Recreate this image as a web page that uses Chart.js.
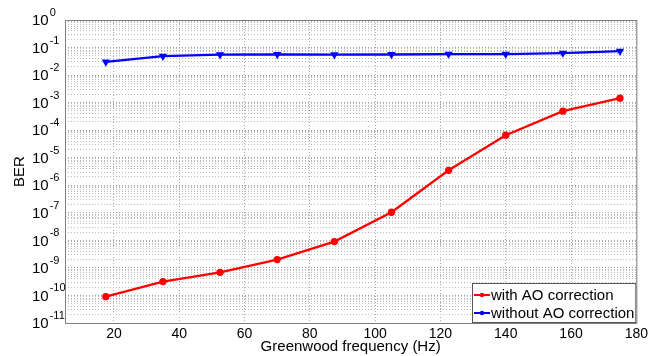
<!DOCTYPE html>
<html>
<head>
<meta charset="utf-8">
<script src="https://cdn.jsdelivr.net/npm/chart.js@4/dist/chart.umd.min.js"></script>
<style>
html, body { margin: 0; padding: 0; background: #fff; }
#wrap { width: 651px; height: 356px; }
</style>
</head>
<body>
<div id="wrap"><canvas id="grafico"></canvas></div>
<script>
// datos
const frecuencias = [17.5, 35, 52.5, 70, 87.5, 105, 122.5, 140, 157.5, 175];
const berConAO = [9e-11, 3.2e-10, 6.9e-10, 2e-9, 9e-9, 1.05e-7, 3.5e-6, 6.6e-5, 4.9e-4, 1.45e-3];
const berSinAO = [0.030, 0.049, 0.055, 0.056, 0.055, 0.056, 0.058, 0.058, 0.063, 0.074];
const etiquetas = ['with AO correction', 'without AO correction'];
const xTicks = [20, 40, 60, 80, 100, 120, 140, 160, 180];
const yExponentes = [0, -1, -2, -3, -4, -5, -6, -7, -8, -9, -10, -11];

const FUENTE = '"Liberation Sans", Arial, sans-serif';
Chart.defaults.font.family = FUENTE;
Chart.defaults.color = '#000';

// ejes, etiquetas 10^n y leyenda dentro del grafico
const ejes = {
    id: 'ejes',
    afterDraw(chart) {
        const { ctx, chartArea: a, scales: { x, y } } = chart;
        ctx.save();
        ctx.strokeStyle = '#808080';
        ctx.lineWidth = 1;
        ctx.strokeRect(a.left + 0.5, a.top + 0.5, a.right - a.left, a.bottom - a.top);

        ctx.fillStyle = '#000';
        ctx.textAlign = 'left';
        ctx.textBaseline = 'middle';
        yExponentes.forEach(e => {
            const py = y.getPixelForValue(Math.pow(10, e));
            ctx.font = '15px ' + FUENTE;
            ctx.fillText('10', 32, py + 1);
            const w = ctx.measureText('10').width;
            ctx.font = '11px ' + FUENTE;
            ctx.fillText(String(e), 32 + w + 1, py - 7);
        });

        // leyenda
        const lx = 472, ly = 283, lw = a.right - lx, lh = a.bottom - ly;
        ctx.fillStyle = '#fff';
        ctx.fillRect(lx, ly, lw, lh);
        ctx.strokeStyle = '#555';
        ctx.strokeRect(lx + 0.5, ly + 0.5, lw - 1, lh - 1);
        const colores = ['#ff0000', '#0000ff'];
        [295, 313].forEach((yy, i) => {
            ctx.strokeStyle = colores[i];
            ctx.lineWidth = 2;
            ctx.beginPath();
            ctx.moveTo(474, yy);
            ctx.lineTo(490, yy);
            ctx.stroke();
            ctx.fillStyle = colores[i];
            ctx.beginPath();
            ctx.arc(482, yy, 2.2, 0, Math.PI * 2);
            ctx.fill();
            ctx.fillStyle = '#000';
            ctx.font = '15px ' + FUENTE;
            ctx.fillText(etiquetas[i], 491, yy + 1);
        });
        ctx.restore();
    }
};

const ctx = document.getElementById('grafico').getContext('2d');
new Chart(ctx, {
    type: 'line',
    data: {
        datasets: [{
            label: etiquetas[0],
            data: frecuencias.map((f, i) => ({ x: f, y: berConAO[i] })),
            borderColor: '#ff0000',
            backgroundColor: '#ff0000',
            borderWidth: 2.3,
            pointRadius: 2.5,
            pointStyle: 'circle',
            tension: 0
        }, {
            label: etiquetas[1],
            data: frecuencias.map((f, i) => ({ x: f, y: berSinAO[i] })),
            borderColor: '#0000ff',
            backgroundColor: '#0000ff',
            borderWidth: 2.3,
            pointRadius: 2.5,
            pointStyle: 'triangle',
            pointRotation: 180,
            tension: 0
        }]
    },
    options: {
        responsive: true,
        maintainAspectRatio: false,
        animation: false,
        layout: { padding: { top: 20, right: 12, left: 11, bottom: 0 } },
        plugins: { legend: { display: false }, tooltip: { enabled: false } },
        scales: {
            x: {
                type: 'linear',
                min: 5,
                max: 180,
                afterBuildTicks: s => { s.ticks = xTicks.map(v => ({ value: v })); },
                afterFit: s => { s.height = 33; },
                ticks: { padding: 3, font: { size: 14 }, maxRotation: 0 },
                grid: { color: '#a8a8a8', drawTicks: false },
                border: { display: false, dash: [1, 2] },
                title: { display: true, text: 'Greenwood frequency (Hz)', font: { size: 15 }, padding: { top: 0, bottom: 0 } }
            },
            y: {
                type: 'logarithmic',
                min: 1e-11,
                max: 1,
                afterBuildTicks: s => {
                    const t = [];
                    for (let e = -11; e < 0; e++) {
                        for (let m = 1; m < 10; m++) t.push({ value: m * Math.pow(10, e) });
                    }
                    t.push({ value: 1 });
                    s.ticks = t;
                },
                afterFit: s => { s.width = 54; },
                ticks: { display: false },
                grid: {
                    drawTicks: false,
                    color: c => {
                        const l = Math.log10(c.tick.value);
                        return Math.abs(l - Math.round(l)) < 1e-6 ? '#a0a0a0' : '#bcbcbc';
                    }
                },
                border: { display: false, dash: [1, 2] },
                title: { display: true, text: 'BER', font: { size: 15 }, padding: 0 }
            }
        }
    },
    plugins: [ejes]
});
</script>
</body>
</html>
